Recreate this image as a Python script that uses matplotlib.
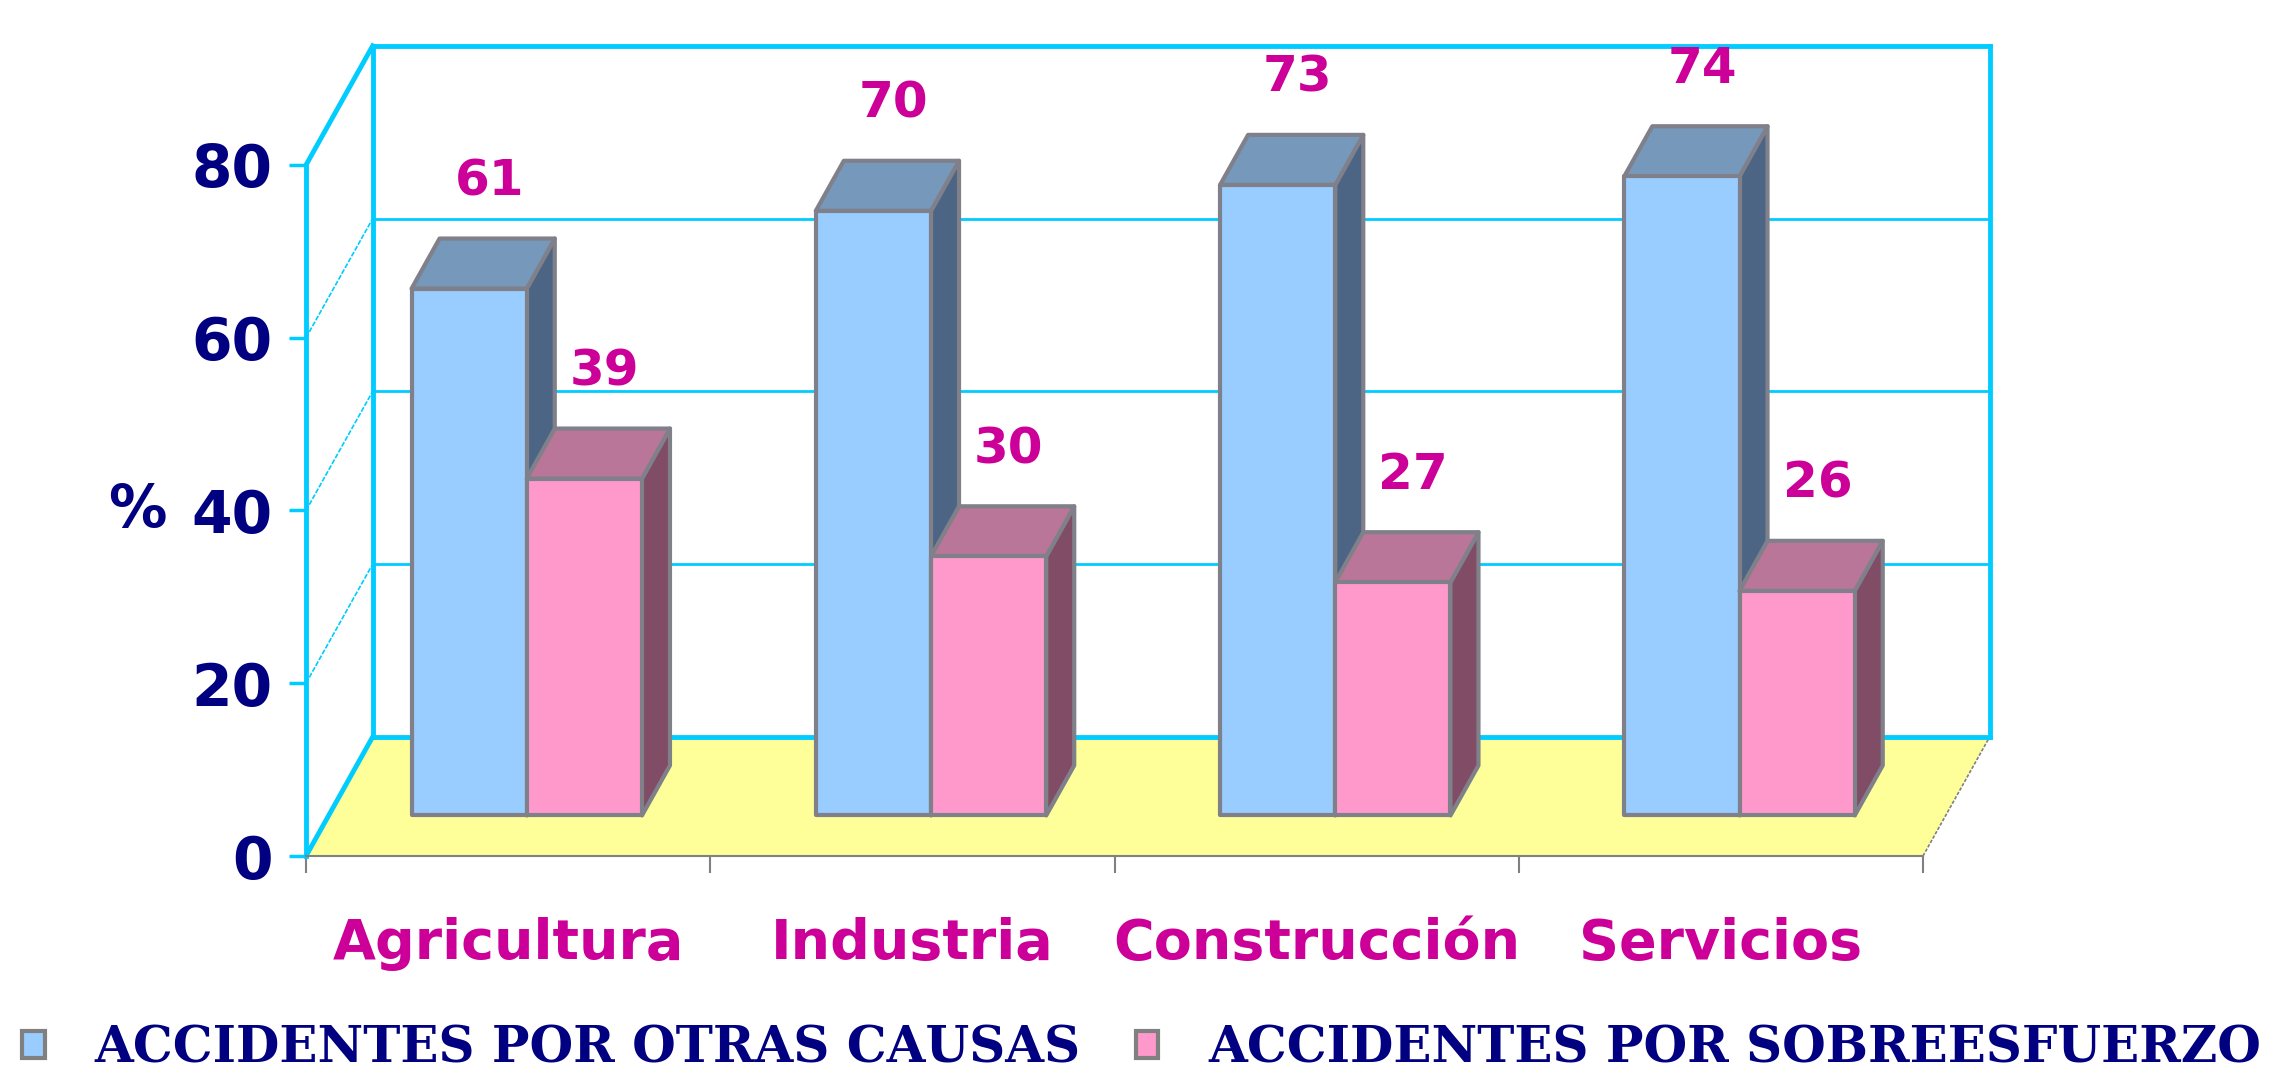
import matplotlib.pyplot as plt
from matplotlib.patches import Polygon, Patch

categories = ["Agricultura", "Industria", "Construcción", "Servicios"]
otras_causas = [61, 70, 73, 74]
sobreesfuerzo = [39, 30, 27, 26]
series_names = ["ACCIDENTES POR OTRAS CAUSAS", "ACCIDENTES POR SOBREESFUERZO"]
y_ticks = [0, 20, 40, 60, 80]

front_colors = ["#99ccff", "#ff99cc"]
top_colors = ["#7698ba", "#ba7698"]
side_colors = ["#4c6585", "#804c66"]
edge = "#80808a"
cyan = "#00ccff"
navy = "#000080"
magenta = "#cc0099"

# oblique projection: full depth moves a point DX categories right and DY % up
DX, DY = 0.165, 13.8
D0, D1 = 0.34, 0.76  # depth of bar front / back faces
BAR_W = 0.285
BAR_X0 = 0.205


def proj(x, v, d):
    return (x + d * DX, v + d * DY)


W, H = 2284, 1081
fig = plt.figure(figsize=(W / 100, H / 100), dpi=100)
ax = fig.add_axes([306 / W, (H - 856) / H, 1617 / W, 691 / H])
n = len(categories)
ax.set_xlim(0, n)
ax.set_ylim(0, 80)

# floor
floor = [proj(0, 0, 0), proj(n, 0, 0), proj(n, 0, 1), proj(0, 0, 1)]
ax.add_patch(Polygon(floor, closed=True, facecolor="#ffff99", edgecolor="none", zorder=1, clip_on=False))
ax.plot(*zip(proj(n, 0, 0), proj(n, 0, 1)), color="#808080", lw=1.2, ls=(0, (2, 1)), zorder=2, clip_on=False)

# side wall grid
for v in y_ticks:
    thick = v in (y_ticks[0], y_ticks[-1])
    ax.plot(*zip(proj(0, v, 0), proj(0, v, 1)), color=cyan, lw=3.5 if thick else 1.2,
            ls="-" if thick else (0, (3, 1)), zorder=2, clip_on=False)

# back wall
for v in y_ticks:
    thick = v in (y_ticks[0], y_ticks[-1])
    ax.plot(*zip(proj(0, v, 1), proj(n, v, 1)), color=cyan, lw=3.5 if thick else 2,
            zorder=2, clip_on=False)
for x in (0, n):
    ax.plot(*zip(proj(x, 0, 1), proj(x, 80, 1)), color=cyan, lw=3.5, zorder=2, clip_on=False)

# bars
for i in range(n):
    for j, val in enumerate((otras_causas[i], sobreesfuerzo[i])):
        x0 = i + BAR_X0 + j * BAR_W
        x1 = x0 + BAR_W
        front = [proj(x0, 0, D0), proj(x1, 0, D0), proj(x1, val, D0), proj(x0, val, D0)]
        top = [proj(x0, val, D0), proj(x1, val, D0), proj(x1, val, D1), proj(x0, val, D1)]
        side = [proj(x1, 0, D0), proj(x1, 0, D1), proj(x1, val, D1), proj(x1, val, D0)]
        for pts, fc in ((side, side_colors[j]), (top, top_colors[j]), (front, front_colors[j])):
            ax.add_patch(Polygon(pts, closed=True, facecolor=fc, edgecolor=edge, lw=3,
                                 joinstyle="round", zorder=3, clip_on=False))
        lx, ly = proj(x0 + BAR_W / 2 + 0.05, val + 12.4, D0)
        ax.text(lx, ly, str(val), ha="center", va="center",
                fontsize=36, fontweight="bold", color=magenta, zorder=4, clip_on=False)

# axes
for s in ("top", "right"):
    ax.spines[s].set_visible(False)
ax.spines["left"].set_color(cyan)
ax.spines["left"].set_linewidth(3.5)
ax.spines["left"].set_zorder(5)
ax.spines["bottom"].set_color("#808080")
ax.spines["bottom"].set_linewidth(1.5)
ax.spines["bottom"].set_zorder(5)

ax.set_yticks(y_ticks)
ax.set_yticklabels([str(t) for t in y_ticks], fontsize=42, fontweight="bold", color=navy)
ax.tick_params(axis="y", length=12, width=2.5, color=cyan, pad=12)

ax.set_xticks(range(n + 1))
ax.set_xticklabels([])
ax.tick_params(axis="x", which="major", length=12, width=1.5, color="#808080")
ax.set_xticks([i + 0.5 for i in range(n)], minor=True)
ax.set_xticklabels(categories, minor=True, fontsize=40, fontweight="bold", color=magenta)
ax.tick_params(axis="x", which="minor", length=0, pad=44)

ax.set_ylabel("%", rotation=0, fontsize=42, fontweight="bold", color=navy, ha="center", va="center")
ax.yaxis.set_label_coords(-0.104, 40 / 80)
ax.set_facecolor("none")

handles = [Patch(facecolor=front_colors[k], edgecolor="#808080", linewidth=3) for k in range(2)]
fig.legend(handles, series_names, loc="center left", bbox_to_anchor=(22 / W, 1 - 1049 / H),
           ncol=2, frameon=False, prop=dict(family="DejaVu Serif", weight="bold", size=36),
           labelcolor=navy, handlelength=0.45, handleheight=0.45, handletextpad=1.0,
           columnspacing=1.1, borderpad=0, borderaxespad=0)

fig.savefig("out.png", dpi=100)
